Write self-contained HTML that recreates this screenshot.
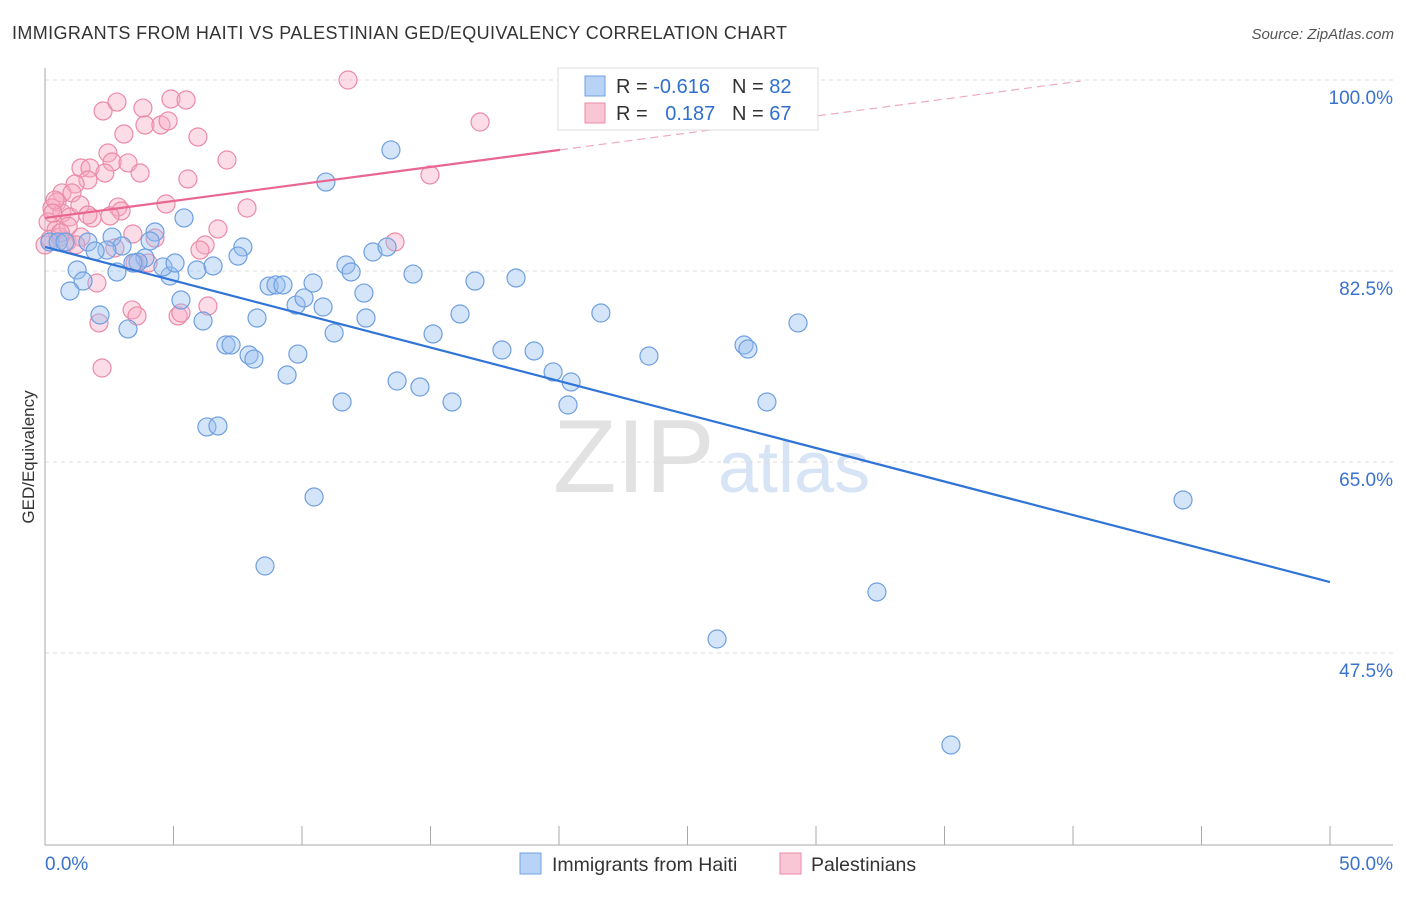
<!DOCTYPE html>
<html><head><meta charset="utf-8"><style>
body{margin:0;background:#fff;font-family:"Liberation Sans",sans-serif}
svg text{font-family:"Liberation Sans",sans-serif}
</style></head><body>
<svg id="chart" width="1406" height="892" viewBox="0 0 1406 892">
<text x="12" y="39" font-size="18" fill="#333" textLength="775">IMMIGRANTS FROM HAITI VS PALESTINIAN GED/EQUIVALENCY CORRELATION CHART</text>
<text x="1394" y="39" font-size="15" fill="#555" font-style="italic" text-anchor="end">Source: ZipAtlas.com</text>
<g>
<text x="553" y="492" font-size="104" font-family="Liberation Serif,serif" fill="#e2e2e2">ZIP</text>
<text x="718" y="492" font-size="72" fill="#d6e4f5">atlas</text>
</g>
<g id="grid"></g><g id="axes"></g><g id="pts"></g><g id="lines"></g>
<text transform="translate(34,457) rotate(-90)" font-size="17" fill="#333" text-anchor="middle">GED/Equivalency</text>
<g>
<rect x="558" y="68" width="260" height="62" fill="#fff" stroke="#ddd"/>
<rect x="585" y="76" width="20" height="20" fill="#b8d3f5" stroke="#6f9fe0"/>
<rect x="585" y="103" width="20" height="20" fill="#f9c6d5" stroke="#eb8aa6"/>
<text x="616" y="93" font-size="20" fill="#333">R = <tspan fill="#2f6fd0">-0.616</tspan></text>
<text x="732" y="93" font-size="20" fill="#333">N = <tspan fill="#2f6fd0">82</tspan></text>
<text x="616" y="120" font-size="20" fill="#333">R = <tspan fill="#2f6fd0" dx="12">0.187</tspan></text>
<text x="732" y="120" font-size="20" fill="#333">N = <tspan fill="#2f6fd0">67</tspan></text>
</g>
<g>
<rect x="520" y="853" width="21" height="21" fill="#b8d3f5" stroke="#6f9fe0"/>
<text x="552" y="871" font-size="19.5" fill="#333">Immigrants from Haiti</text>
<rect x="780" y="853" width="21" height="21" fill="#f9c6d5" stroke="#eb8aa6"/>
<text x="811" y="871" font-size="19.5" fill="#333">Palestinians</text>
</g>
</svg>
<script>
const yTicks=[100,82.5,65,47.5];
const yTickLabels=["100.0%","82.5%","65.0%","47.5%"];
const xTicks=[0,5,10,15,20,25,30,35,40,45,50];
const xTickLabels=["0.0%","50.0%"];
const haitiX=[.19,.51,.78,1.67,2.61,3.0,4.28,4.09,5.41,7.70,7.51,5.91,6.54,4.86,4.59,5.06,3.89,3.62,3.42,2.8,2.41,1.95,1.25,1.48,.97,2.14,3.23,5.29,6.15,7.04,7.24,7.94,8.13,8.25,8.72,8.99,9.26,9.77,10.08,9.84,9.42,10.43,10.82,11.25,11.56,10.93,11.71,11.91,12.41,12.49,12.76,13.31,13.46,13.70,14.32,14.59,15.10,15.84,16.15,16.73,18.33,17.78,19.03,19.77,20.47,20.35,21.63,23.50,27.20,27.35,28.09,29.30,6.30,6.73,10.47,8.56,32.37,26.15,35.25,44.28];
const haitiY=[85.16,85.16,85.16,85.16,85.61,84.79,86.07,85.25,87.36,84.70,83.87,82.59,82.96,82.04,82.87,83.23,83.69,83.32,83.23,82.41,84.42,84.33,82.59,81.58,80.67,78.47,77.19,79.84,77.92,75.72,75.72,74.80,74.43,78.19,81.12,81.22,81.22,79.38,80.03,74.89,72.97,81.40,79.20,76.82,70.50,90.65,83.05,82.41,80.48,78.19,84.24,84.70,93.59,72.42,82.22,71.87,76.73,70.50,78.56,81.58,81.86,75.26,75.17,73.25,72.33,70.22,78.65,74.71,75.72,75.35,70.50,77.74,68.21,68.30,61.79,55.47,53.09,48.78,39.07,61.52];
const palX=[11.79,2.26,2.80,3.81,4.90,5.49,3.89,4.51,4.79,3.07,5.95,2.45,2.61,3.23,7.08,1.40,1.75,3.70,2.33,5.56,1.67,1.17,.66,1.05,14.98,16.93,7.86,4.71,2.84,2.96,2.53,1.83,.47,.27,.66,.97,1.36,.12,.43,.58,.86,0,3.42,4.28,6.73,6.23,6.03,13.62,1.40,2.72,3.50,2.02,3.39,3.58,2.10,5.18,5.29,6.34,2.22,4.01,.39,1.67,0.2,0.9,1.2,0.3,0.6];
const palY=[100,97.16,97.98,97.43,98.26,98.17,95.88,95.88,96.25,95.05,94.78,93.31,92.49,92.40,92.67,91.94,91.94,91.48,91.48,90.93,90.84,90.47,89.65,89.65,91.30,96.15,88.27,88.64,88.36,88.0,87.54,87.36,88.82,88.27,87.81,87.45,88.55,86.99,86.26,85.61,85.16,84.88,85.89,85.52,86.35,84.88,84.42,85.16,85.61,84.61,83.23,81.40,78.93,78.38,77.74,78.38,78.65,79.29,73.61,83.23,89.0,87.63,85.4,86.6,84.9,87.8,86.0];
const haitiTrend=[84.7,54.0];
const palTrend=[87.36,93.6,99.9];
const palTrendX=[0,20.04,40.3];
const NS="http://www.w3.org/2000/svg";
const X=v=>45+v*25.7, Y=v=>80+(100-v)*10.914;
function mk(t,a,p){const e=document.createElementNS(NS,t);for(const k in a)e.setAttribute(k,a[k]);document.getElementById(p).appendChild(e);return e;}
yTicks.forEach((t,i)=>{
 const l=mk('line',{x1:45,x2:1393,y1:Y(t),y2:Y(t),stroke:'#ddd','stroke-dasharray':'4,4'},'grid');
 
 
 const tx=mk('text',{x:1393,y:Y(t)+24,'font-size':19,fill:'#3a72cf','text-anchor':'end'},'axes');
 tx.textContent=yTickLabels[i];
 
 
});
const ax=mk('line',{x1:45,x2:45,y1:68,y2:845,stroke:'#aaa'},'axes');


const bx=mk('line',{x1:45,x2:1393,y1:845,y2:845,stroke:'#aaa'},'axes');


xTicks.forEach(t=>{
 const l=mk('line',{x1:X(t),x2:X(t),y1:826,y2:845,stroke:'#aaa'},'axes');
 
 
});
const xl0=mk('text',{x:45,y:870,'font-size':19,fill:'#3a72cf'},'axes');xl0.textContent=xTickLabels[0];


const xl1=mk('text',{x:1393,y:870,'font-size':19,fill:'#3a72cf','text-anchor':'end'},'axes');xl1.textContent=xTickLabels[1];


palX.forEach((x,i)=>{
 const c=mk('circle',{cx:X(x),cy:Y(palY[i]),r:9,fill:'rgba(247,170,195,0.4)',stroke:'#eb8aa6','stroke-width':1.2},'pts');
 
 
});
haitiX.forEach((x,i)=>{
 const c=mk('circle',{cx:X(x),cy:Y(haitiY[i]),r:9,fill:'rgba(150,190,240,0.4)',stroke:'#6f9fe0','stroke-width':1.2},'pts');
 
 
});
const hl=mk('line',{x1:X(0),y1:Y(haitiTrend[0]),x2:X(50),y2:Y(haitiTrend[1]),stroke:'#2f74d6','stroke-width':2.2},'lines');


const pl=mk('line',{x1:X(palTrendX[0]),y1:Y(palTrend[0]),x2:X(palTrendX[1]),y2:Y(palTrend[1]),stroke:'#e8668f','stroke-width':2.2},'lines');


const pd=mk('line',{x1:X(palTrendX[1]),y1:Y(palTrend[1]),x2:X(palTrendX[2]),y2:Y(palTrend[2]),stroke:'#eeaac0','stroke-width':1.2,'stroke-dasharray':'8,5'},'lines');


</script>
</body></html>
